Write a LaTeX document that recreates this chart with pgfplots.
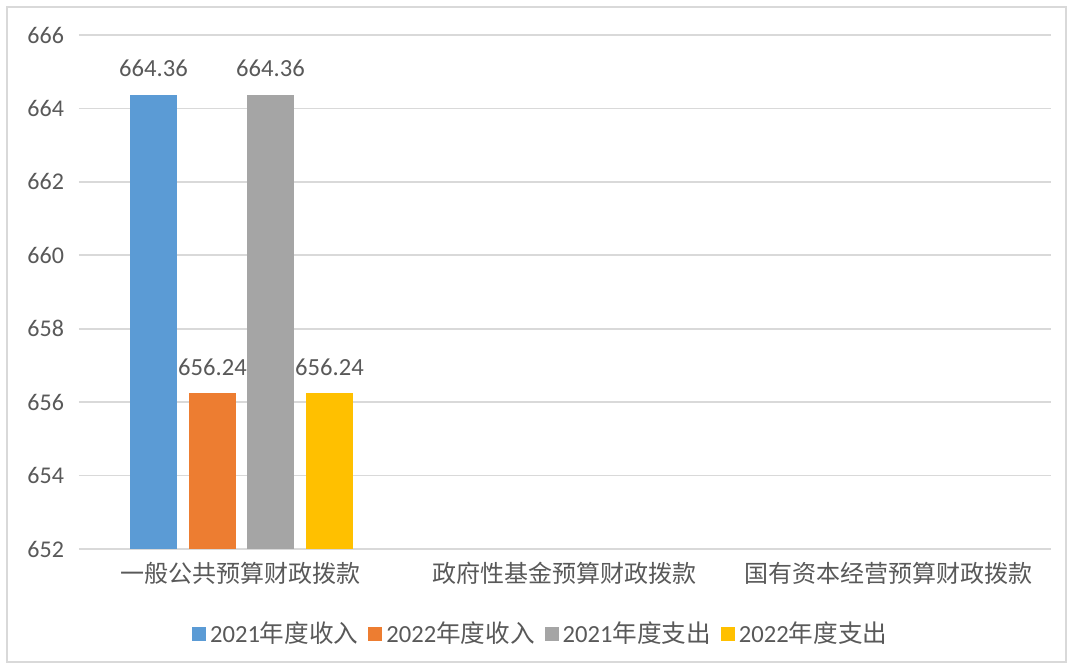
\documentclass[border=0pt]{standalone}
\usepackage{pgfplots}
\pgfplotsset{compat=1.18}
\usepackage{fontspec}
\setmainfont{Carlito}
\newfontfamily\cjk{Noto Sans CJK SC}
\definecolor{cBlue}{HTML}{5B9BD5}
\definecolor{cOrange}{HTML}{ED7D31}
\definecolor{cGray}{HTML}{A5A5A5}
\definecolor{cYellow}{HTML}{FFC000}
\definecolor{txt}{HTML}{595959}
\definecolor{gridc}{HTML}{D9D9D9}
\begin{document}
\begin{tikzpicture}
\fill[white] (0,0) rectangle (536.5pt,334.5pt);
\draw[gridc, line width=0.8pt] (3.5pt,3.5pt) rectangle (533pt,331pt);
\begin{axis}[
  at={(39.5pt,60pt)}, anchor=south west,
  scale only axis, width=486pt, height=257pt,
  xmin=-0.5, xmax=2.5, ymin=652, ymax=666,
  ytick={652,654,...,666},
  xtick={0,1,2},
  xticklabels={{\cjk 一般公共预算财政拨款},{\cjk 政府性基金预算财政拨款},{\cjk 国有资本经营预算财政拨款}},
  axis line style={draw=none},
  ymajorgrids, xmajorgrids=false, grid style={draw=gridc, line width=0.8pt},
  major tick length=0pt,
  tick label style={font=\fontsize{12pt}{14pt}\selectfont, text=txt},
  xticklabel style={yshift=-3pt},
  yticklabel style={xshift=-4pt},
  /pgf/number format/assume math mode=true,
  legend columns=4,
  legend style={at={(axis description cs:0.476,-0.165)}, anchor=center, draw=none,
    font=\fontsize{12.3pt}{14pt}\selectfont, text=txt,
    /tikz/every even column/.append style={column sep=3pt}},
  mybar/.style={ybar, bar width=0.145, bar shift=0, draw=none, fill=#1,
    legend image code/.code={\fill[#1] (0pt,-3.5pt) rectangle (7pt,3.5pt);},
    nodes near coords,
    nodes near coords style={font=\fontsize{12.3pt}{14pt}\selectfont, text=txt, yshift=5.5pt,
      /pgf/number format/.cd, fixed, precision=2, fixed zerofill, assume math mode=true}},
]
\addplot[mybar=cBlue] coordinates {(-0.27,664.36)};
\addlegendentry{2021{\cjk 年度收入}}
\addplot[mybar=cOrange] coordinates {(-0.088,656.24)};
\addlegendentry{2022{\cjk 年度收入}}
\addplot[mybar=cGray] coordinates {(0.091,664.36)};
\addlegendentry{2021{\cjk 年度支出}}
\addplot[mybar=cYellow] coordinates {(0.273,656.24)};
\addlegendentry{2022{\cjk 年度支出}}
\end{axis}
\end{tikzpicture}
\end{document}
